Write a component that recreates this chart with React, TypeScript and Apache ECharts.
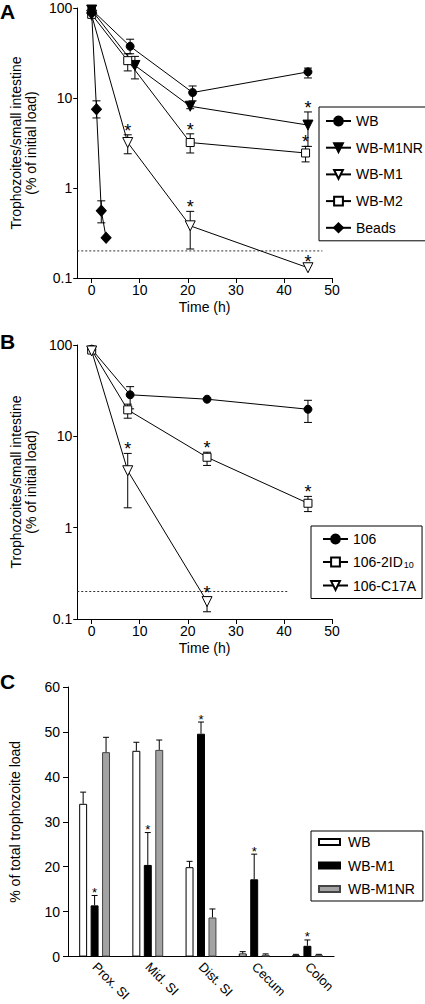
import React, { useEffect, useRef } from "react";
import * as echarts from "echarts";

const FONT = '"Liberation Sans", Arial, Helvetica, sans-serif';

// ---------- Panel A: [time (h), % of initial load] ----------
const timeTicks = [0, 10, 20, 30, 40, 50];
const aWB = [[0, 96], [8, 37.5], [21, 11.5], [45, 19.5]];
const aWBM1NR = [[0, 95], [9, 23], [20.5, 8.1], [45, 5]];
const aWBM1 = [[0, 83], [7.5, 3.2], [20.5, 0.38], [45, 0.13]];
const aWBM2 = [[0, 85], [7.5, 26], [20.5, 3.2], [44.5, 2.45]];
const aBeads = [[0, 88], [1, 7.5], [2, 0.56], [3, 0.28]];
// error bars: [time, low, high]
const aErrWB = [[8, 31, 45], [21, 9.3, 13.6], [45, 16.7, 21.5]];
const aErrWBM1NR = [[9, 16.3, 29], [20.5, 7.6, 8.8], [45, 2.9, 7]];
const aErrWBM1 = [[7.5, 2.4, 3.9], [20.5, 0.21, 0.55]];
const aErrWBM2 = [[7.5, 20, 31], [20.5, 2.45, 4.0], [44.5, 1.95, 2.9]];
const aErrBeads = [[1, 6, 9.3], [2, 0.41, 0.72]];
// significance marks: [time, anchor value]
const aStars = [[7.5, 3.9], [20.5, 0.55], [45, 0.135], [20.5, 4.0], [44.5, 2.9], [45, 7]];
const aLimit = [[-3, 0.2], [48, 0.2]];

// ---------- Panel B ----------
const b106 = [[0, 90], [8, 28.5], [24, 25.5], [45, 19.8]];
const b2ID10 = [[0, 88], [7.5, 19.5], [24, 5.9], [45, 1.85]];
const bC17A = [[0, 86], [7.5, 4.2], [24, 0.155]];
const bErr106 = [[8, 20, 35], [45, 14.2, 24.8]];
const bErr2ID10 = [[7.5, 15.8, 22.5], [24, 4.8, 6.7], [45, 1.5, 2.2]];
const bErrC17A = [[7.5, 1.65, 6.5], [24, 0.12, 0.175]];
const bStars = [[7.5, 6.5], [24, 6.7], [24, 0.175], [45, 2.2]];
const bLimit = [[-3, 0.2], [41, 0.2]];

// ---------- Panel C ----------
const cCats = ["Prox. SI", "Mid. SI", "Dist. SI", "Cecum", "Colon"];
const cWB = [34, 45.8, 19.9, 0.7, 0.3];
const cWBErr = [36.6, 47.7, 21.2, 1.1, 0.5];
const cM1 = [11.4, 20.4, 49.6, 17.2, 2.4];
const cM1Err = [13.6, 27.6, 52.2, 22.8, 3.7];
const cM1NR = [45.5, 46, 8.7, 0.4, 0.4];
const cM1NRErr = [48.8, 48.2, 10.6, 0.6, 0.5];

const CAT_GAP = 0.42;
const BAR_GAP = 0.44;

const BLACK = "#000";

function errRender(capHalf: number) {
  return (params: any, api: any) => {
    const x = api.value(0);
    const lo = api.coord([x, api.value(1)]);
    const hi = api.coord([x, api.value(2)]);
    const st = { stroke: BLACK, lineWidth: 1 };
    return {
      type: "group",
      children: [
        { type: "line", shape: { x1: lo[0], y1: lo[1], x2: hi[0], y2: hi[1] }, style: st },
        { type: "line", shape: { x1: lo[0] - capHalf, y1: lo[1], x2: lo[0] + capHalf, y2: lo[1] }, style: st },
        { type: "line", shape: { x1: hi[0] - capHalf, y1: hi[1], x2: hi[0] + capHalf, y2: hi[1] }, style: st },
      ],
    };
  };
}

function starRender(fontSize: number, lift: number, barIdx: number | null) {
  return (params: any, api: any) => {
    const x = api.value(0);
    const p = api.coord([x, api.value(1)]);
    let px = p[0];
    if (barIdx !== null) {
      const band = api.size([1, 0])[0];
      const w = (band * (1 - CAT_GAP)) / (3 + 2 * BAR_GAP);
      px += (barIdx - 1) * w * (1 + BAR_GAP);
    }
    return {
      type: "text",
      x: px,
      y: p[1] - lift,
      style: {
        text: "*",
        fill: BLACK,
        fontSize,
        fontFamily: FONT,
        align: "center",
        verticalAlign: "middle",
      },
    };
  };
}

function barErrRender(barIdx: number) {
  return (params: any, api: any) => {
    const cat = api.value(0);
    const base = api.coord([cat, api.value(1)]);
    const top = api.coord([cat, api.value(2)]);
    const band = api.size([1, 0])[0];
    const w = (band * (1 - CAT_GAP)) / (3 + 2 * BAR_GAP);
    const x = base[0] + (barIdx - 1) * w * (1 + BAR_GAP);
    const st = { stroke: BLACK, lineWidth: 1 };
    return {
      type: "group",
      children: [
        { type: "line", shape: { x1: x, y1: base[1], x2: x, y2: top[1] }, style: st },
        { type: "line", shape: { x1: x - 3, y1: top[1], x2: x + 3, y2: top[1] }, style: st },
      ],
    };
  };
}

function lineSeries(name: string, data: number[][], idx: number, symbol: string, size: any, filled: boolean, rotate = 0) {
  return {
    type: "line",
    name,
    data,
    xAxisIndex: idx,
    yAxisIndex: idx,
    symbol,
    symbolSize: size,
    symbolRotate: rotate,
    z: 4,
    lineStyle: { color: BLACK, width: 1 },
    itemStyle: filled
      ? { color: BLACK, borderColor: BLACK, borderWidth: 1 }
      : { color: "#fff", borderColor: BLACK, borderWidth: 1 },
  };
}

const logFmt = (v: number) => String(+Number(v).toPrecision(2));

function timeAxis(idx: number) {
  return {
    gridIndex: idx,
    type: "value",
    min: -3,
    max: 50,
    axisLine: { show: true, onZero: false, lineStyle: { color: BLACK, width: 1 } },
    axisTick: { show: true, customValues: timeTicks, length: 5, lineStyle: { color: BLACK } },
    axisLabel: { customValues: timeTicks, color: BLACK, fontSize: 14, margin: 5, fontFamily: FONT },
    splitLine: { show: false },
    name: "Time (h)",
    nameLocation: "middle",
    nameGap: 22,
    nameTextStyle: { color: BLACK, fontSize: 14, fontFamily: FONT },
  };
}

function logAxis(idx: number) {
  return {
    gridIndex: idx,
    type: "log",
    logBase: 10,
    min: 0.1,
    max: 100,
    axisLine: { show: true, onZero: false, lineStyle: { color: BLACK, width: 1 } },
    axisTick: { show: true, length: 4, lineStyle: { color: BLACK } },
    minorTick: { show: false },
    axisLabel: { color: BLACK, fontSize: 14, margin: 5, fontFamily: FONT, formatter: logFmt },
    splitLine: { show: false },
    name: "Trophozoites/small intestine\n(% of initial load)",
    nameLocation: "middle",
    nameRotate: 90,
    nameGap: 26,
    nameTextStyle: { color: BLACK, fontSize: 14, lineHeight: 15, fontFamily: FONT },
  };
}

const blackItem = { color: BLACK };

export default function App() {
  const ref = useRef<HTMLDivElement>(null);
  useEffect(() => {
    if (!ref.current) return;
    const chart = echarts.init(ref.current, null, { renderer: "svg" });

    const legendBase = {
      orient: "vertical",
      selectedMode: false,
      borderColor: BLACK,
      borderWidth: 1,
      borderRadius: 0,
      backgroundColor: "#fff",
      textStyle: { color: BLACK, fontSize: 14, fontFamily: FONT },
    };

    const option: any = {
      animation: false,
      backgroundColor: "#fff",
      color: [BLACK],
      textStyle: { fontFamily: FONT },
      grid: [
        { left: 63, top: 8, width: 269, height: 270 },
        { left: 63, top: 345, width: 269, height: 274 },
        { left: 68, top: 687, width: 266, height: 274 },
      ],
      xAxis: [
        timeAxis(0),
        timeAxis(1),
        {
          gridIndex: 2,
          type: "category",
          data: cCats,
          axisLine: { show: true, lineStyle: { color: BLACK, width: 1 } },
          axisTick: { show: false },
          axisLabel: { color: BLACK, fontSize: 13, rotate: -45, margin: 8, fontFamily: FONT },
        },
      ],
      yAxis: [
        logAxis(0),
        logAxis(1),
        {
          gridIndex: 2,
          type: "value",
          min: 0,
          max: 60,
          interval: 10,
          axisLine: { show: true, lineStyle: { color: BLACK, width: 1 } },
          axisTick: { show: true, length: 5, lineStyle: { color: BLACK } },
          axisLabel: { color: BLACK, fontSize: 14, margin: 8, fontFamily: FONT },
          splitLine: { show: false },
          name: "% of total trophozoite load",
          nameLocation: "middle",
          nameRotate: 90,
          nameGap: 46,
          nameTextStyle: { color: BLACK, fontSize: 14, fontFamily: FONT },
        },
      ],
      legend: [
        {
          ...legendBase,
          left: 319,
          top: 107,
          padding: [7, 6, 6, 6],
          itemWidth: 25,
          itemHeight: 11,
          itemGap: 12.7,
          data: ["WB", "WB-M1NR", "WB-M1", "WB-M2", "Beads"],
        },
        {
          ...legendBase,
          left: 311,
          top: 526,
          padding: [6, 6, 6, 11],
          itemWidth: 25,
          itemHeight: 11,
          itemGap: 9,
          data: ["106", "106-2ID10", "106-C17A"],
          formatter: (n: string) => (n === "106-2ID10" ? "106-2ID{sub|10}" : n),
          textStyle: {
            color: BLACK,
            fontSize: 14,
            fontFamily: FONT,
            rich: { sub: { fontSize: 9, fontFamily: FONT, color: BLACK, verticalAlign: "bottom", padding: [6, 0, 0, 1] } },
          },
        },
        {
          ...legendBase,
          left: 311,
          top: 831,
          padding: [4, 8, 5, 7],
          icon: "rect",
          itemWidth: 21,
          itemHeight: 6,
          itemGap: 9.5,
          data: ["C WB", "C WB-M1", "C WB-M1NR"],
          formatter: (n: string) => n.slice(2),
          textStyle: { color: BLACK, fontSize: 14, fontFamily: FONT, padding: [0, 0, 0, 3] },
        },
      ],
      graphic: [
        { type: "text", left: 0, top: 1, style: { text: "A", fill: BLACK, font: `bold 21px ${FONT}` } },
        { type: "text", left: 0, top: 331, style: { text: "B", fill: BLACK, font: `bold 21px ${FONT}` } },
        { type: "text", left: 0, top: 671, style: { text: "C", fill: BLACK, font: `bold 21px ${FONT}` } },
      ],
      series: [
        // ---- A ----
        {
          type: "line", name: "limitA", data: aLimit, xAxisIndex: 0, yAxisIndex: 0, symbol: "none", z: 1,
          lineStyle: { color: "#333", width: 1, type: [2, 2] }, silent: true,
        },
        {
          type: "custom", name: "errA", xAxisIndex: 0, yAxisIndex: 0, z: 2, silent: true, itemStyle: blackItem,
          renderItem: errRender(4), encode: { x: 0, y: [1, 2] },
          data: [...aErrWB, ...aErrWBM1NR, ...aErrWBM1, ...aErrWBM2, ...aErrBeads],
        },
        lineSeries("WB", aWB, 0, "circle", 8, true),
        lineSeries("WB-M1NR", aWBM1NR, 0, "triangle", 10, true, 180),
        lineSeries("WB-M1", aWBM1, 0, "triangle", 10, false, 180),
        lineSeries("WB-M2", aWBM2, 0, "rect", 8, false),
        lineSeries("Beads", aBeads, 0, "diamond", [10, 11], true),
        {
          type: "custom", name: "starsA", xAxisIndex: 0, yAxisIndex: 0, z: 5, silent: true, itemStyle: blackItem,
          renderItem: starRender(18, 4, null), encode: { x: 0, y: 1 }, data: aStars,
        },
        // ---- B ----
        {
          type: "line", name: "limitB", data: bLimit, xAxisIndex: 1, yAxisIndex: 1, symbol: "none", z: 1,
          lineStyle: { color: "#333", width: 1, type: [2, 2] }, silent: true,
        },
        {
          type: "custom", name: "errB", xAxisIndex: 1, yAxisIndex: 1, z: 2, silent: true, itemStyle: blackItem,
          renderItem: errRender(4), encode: { x: 0, y: [1, 2] },
          data: [...bErr106, ...bErr2ID10, ...bErrC17A],
        },
        lineSeries("106", b106, 1, "circle", 8, true),
        lineSeries("106-2ID10", b2ID10, 1, "rect", 8, false),
        lineSeries("106-C17A", bC17A, 1, "triangle", 10, false, 180),
        {
          type: "custom", name: "starsB", xAxisIndex: 1, yAxisIndex: 1, z: 5, silent: true, itemStyle: blackItem,
          renderItem: starRender(18, 4, null), encode: { x: 0, y: 1 }, data: bStars,
        },
        // ---- C ----
        {
          type: "bar", name: "C WB", xAxisIndex: 2, yAxisIndex: 2, data: cWB,
          barGap: `${BAR_GAP * 100}%`, barCategoryGap: `${CAT_GAP * 100}%`,
          itemStyle: { color: "#fff", borderColor: BLACK, borderWidth: 1 },
        },
        {
          type: "bar", name: "C WB-M1", xAxisIndex: 2, yAxisIndex: 2, data: cM1,
          barGap: `${BAR_GAP * 100}%`, barCategoryGap: `${CAT_GAP * 100}%`,
          itemStyle: { color: BLACK, borderColor: BLACK, borderWidth: 1 },
        },
        {
          type: "bar", name: "C WB-M1NR", xAxisIndex: 2, yAxisIndex: 2, data: cM1NR,
          barGap: `${BAR_GAP * 100}%`, barCategoryGap: `${CAT_GAP * 100}%`,
          itemStyle: { color: "#a3a3a3", borderColor: "#444", borderWidth: 1 },
        },
        {
          type: "custom", name: "errC0", xAxisIndex: 2, yAxisIndex: 2, z: 3, silent: true, itemStyle: blackItem,
          renderItem: barErrRender(0), encode: { x: 0, y: [1, 2] },
          data: cCats.map((c, i) => [i, cWB[i], cWBErr[i]]),
        },
        {
          type: "custom", name: "errC1", xAxisIndex: 2, yAxisIndex: 2, z: 3, silent: true, itemStyle: blackItem,
          renderItem: barErrRender(1), encode: { x: 0, y: [1, 2] },
          data: cCats.map((c, i) => [i, cM1[i], cM1Err[i]]),
        },
        {
          type: "custom", name: "errC2", xAxisIndex: 2, yAxisIndex: 2, z: 3, silent: true, itemStyle: blackItem,
          renderItem: barErrRender(2), encode: { x: 0, y: [1, 2] },
          data: cCats.map((c, i) => [i, cM1NR[i], cM1NRErr[i]]),
        },
        {
          type: "custom", name: "starsC", xAxisIndex: 2, yAxisIndex: 2, z: 5, silent: true, itemStyle: blackItem,
          renderItem: starRender(13, 3, 1), encode: { x: 0, y: 1 },
          data: cCats.map((c, i) => [i, cM1Err[i]]),
        },
      ],
    };

    chart.setOption(option);
    return () => chart.dispose();
  }, []);

  return (
    <div
      ref={ref}
      style={{ position: "absolute", left: 0, top: 0, width: 425, height: 1004, background: "#fff" }}
    />
  );
}
